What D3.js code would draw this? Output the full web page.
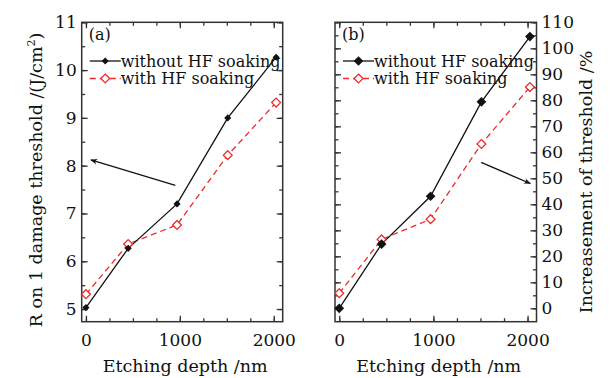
<!DOCTYPE html>
<html>
<head>
<meta charset="utf-8">
<script src="https://cdn.jsdelivr.net/npm/d3@7"></script>
<style>
  body { margin: 0; background: #fff; }
  svg text { font-family: "DejaVu Serif", serif; fill: #111; }
</style>
</head>
<body>
<div id="chart"></div>
<script>
var svgWidth = 616;
var svgHeight = 378;

// data
var depth = [0, 450, 970, 1510, 2025];
var thrWithout = [5.03, 6.27, 7.2, 9.0, 10.27];
var thrWith = [5.31, 6.36, 6.76, 8.22, 9.32];
var incWithout = [0, 24.7, 43.1, 79.4, 104.5];
var incWith = [5.8, 26.5, 34.3, 63.2, 85.1];

var xTicks = [0, 1000, 2000];
var thrTicks = [5, 6, 7, 8, 9, 10, 11];
var incTicks = [0, 10, 20, 30, 40, 50, 60, 70, 80, 90, 100, 110];
var seriesNames = ["without HF soaking", "with HF soaking"];

// arrow annotations, in data units [x0, y0, x1, y1]
var arrowA = [952, 7.59, 53, 8.12];
var arrowB = [1507, 56.1, 2029, 48.0];

var red = "#ee2a2a";
var fmt = d3.format("d");

var svg = d3.select("#chart")
  .append("svg")
  .attr("width", svgWidth)
  .attr("height", svgHeight);

svg.append("defs").append("marker")
  .attr("id", "head")
  .attr("viewBox", "0 0 10 10")
  .attr("refX", 9)
  .attr("refY", 5)
  .attr("markerWidth", 9)
  .attr("markerHeight", 7)
  .attr("markerUnits", "userSpaceOnUse")
  .attr("orient", "auto")
  .append("path")
  .attr("d", "M0,1 L10,5 L0,9 L3,5 Z")
  .attr("fill", "#111");

var plotTop = 22.3, plotBottom = 321.7;

function drawPanel(opt) {
  var x = d3.scaleLinear().domain([-45, 2095]).range([opt.left, opt.right]);
  var y = d3.scaleLinear().domain(opt.yDomain).range([plotBottom, plotTop]);
  var g = svg.append("g");

  // frame
  g.append("rect")
    .attr("x", opt.left).attr("y", plotTop)
    .attr("width", opt.right - opt.left).attr("height", plotBottom - plotTop)
    .attr("fill", "none").attr("stroke", "#333").attr("stroke-width", 1.5);

  var xMinor = d3.range(0, 2001, 250);
  var yMinor = d3.range(opt.yDomain[0] < 0 ? 0 : Math.ceil(opt.yDomain[0]), opt.yDomain[1] + 0.001, opt.minorStep);

  // bottom axis with labels
  g.append("g").attr("transform", `translate(0,${plotBottom})`)
    .call(d3.axisBottom(x).tickValues(xTicks).tickFormat(fmt).tickSize(-6).tickPadding(12));
  g.append("g").attr("transform", `translate(0,${plotBottom})`)
    .call(d3.axisBottom(x).tickValues(xMinor).tickSize(-3.5).tickFormat(""));
  // top mirror
  g.append("g").attr("transform", `translate(0,${plotTop})`)
    .call(d3.axisTop(x).tickValues(xTicks).tickSize(-6).tickFormat(""));
  g.append("g").attr("transform", `translate(0,${plotTop})`)
    .call(d3.axisTop(x).tickValues(xMinor).tickSize(-3.5).tickFormat(""));

  // y axes: labelled side and mirror
  var labelAxis = opt.side === "left" ? d3.axisLeft : d3.axisRight;
  var mirrorAxis = opt.side === "left" ? d3.axisRight : d3.axisLeft;
  var labelX = opt.side === "left" ? opt.left : opt.right;
  var mirrorX = opt.side === "left" ? opt.right : opt.left;

  g.append("g").attr("transform", `translate(${labelX},0)`)
    .call(labelAxis(y).tickValues(opt.yTicks).tickFormat(fmt).tickSize(-6).tickPadding(5));
  g.append("g").attr("transform", `translate(${labelX},0)`)
    .call(labelAxis(y).tickValues(yMinor).tickSize(-3.5).tickFormat(""));
  g.append("g").attr("transform", `translate(${mirrorX},0)`)
    .call(mirrorAxis(y).tickValues(opt.yTicks).tickSize(-6).tickFormat(""));
  g.append("g").attr("transform", `translate(${mirrorX},0)`)
    .call(mirrorAxis(y).tickValues(yMinor).tickSize(-3.5).tickFormat(""));

  g.selectAll(".domain").remove();
  g.selectAll(".tick line").attr("stroke", "#333").attr("stroke-width", 1.3);
  g.selectAll(".tick text").style("font-size", "17px").attr("fill", "#111");

  // lines
  var line = d3.line().x(d => x(d[0])).y(d => y(d[1]));
  var s1 = depth.map((d, i) => [d, opt.s1[i]]);
  var s2 = depth.map((d, i) => [d, opt.s2[i]]);

  g.append("path").datum(s2).attr("d", line)
    .attr("fill", "none").attr("stroke", red).attr("stroke-width", 1.3)
    .attr("stroke-dasharray", "6,4");
  g.append("path").datum(s1).attr("d", line)
    .attr("fill", "none").attr("stroke", "#111").attr("stroke-width", 1.3);

  var sym1 = d3.symbol().type(d3.symbolDiamond2).size(opt.fillSize);
  var sym2 = d3.symbol().type(d3.symbolDiamond2).size(50);

  g.selectAll(".m2").data(s2).enter().append("path")
    .attr("transform", d => `translate(${x(d[0])},${y(d[1])})`)
    .attr("d", sym2).attr("fill", "#fff").attr("stroke", red).attr("stroke-width", 1.3);
  g.selectAll(".m1").data(s1).enter().append("path")
    .attr("transform", d => `translate(${x(d[0])},${y(d[1])})`)
    .attr("d", sym1).attr("fill", "#111");

  // panel label
  g.append("text").attr("x", opt.left + 7).attr("y", plotTop + 18)
    .style("font-size", "16px").text(opt.tag);

  // legend
  var lx = opt.left + 8, lw = 31;
  var ly1 = 61, ly2 = 78.5;
  g.append("line").attr("x1", lx).attr("x2", lx + lw).attr("y1", ly1).attr("y2", ly1)
    .attr("stroke", "#111").attr("stroke-width", 1.3);
  g.append("path").attr("transform", `translate(${lx + lw / 2},${ly1})`)
    .attr("d", sym1).attr("fill", "#111");
  g.append("text").attr("x", lx + lw).attr("y", ly1 + 5.5)
    .style("font-size", "16px").text(seriesNames[0]);

  g.append("line").attr("x1", lx).attr("x2", lx + lw).attr("y1", ly2).attr("y2", ly2)
    .attr("stroke", red).attr("stroke-width", 1.3).attr("stroke-dasharray", "6,4");
  g.append("path").attr("transform", `translate(${lx + lw / 2},${ly2})`)
    .attr("d", sym2).attr("fill", "#fff").attr("stroke", red).attr("stroke-width", 1.3);
  g.append("text").attr("x", lx + lw).attr("y", ly2 + 5.5)
    .style("font-size", "16px").text(seriesNames[1]);

  // arrow
  var a = opt.arrow;
  g.append("line")
    .attr("x1", x(a[0])).attr("y1", y(a[1]))
    .attr("x2", x(a[2])).attr("y2", y(a[3]))
    .attr("stroke", "#111").attr("stroke-width", 1.3)
    .attr("marker-end", "url(#head)");

  // x title
  g.append("text")
    .attr("x", (opt.left + opt.right) / 2 + 3).attr("y", 372)
    .attr("text-anchor", "middle").style("font-size", "17.5px")
    .text("Etching depth /nm");

  return g;
}

drawPanel({
  left: 81.7, right: 282.7, side: "left",
  yDomain: [4.735, 11], yTicks: thrTicks, minorStep: 0.5,
  s1: thrWithout, s2: thrWith, fillSize: 32, tag: "(a)", arrow: arrowA
});

drawPanel({
  left: 335, right: 536.5, side: "right",
  yDomain: [-5.15, 110], yTicks: incTicks, minorStep: 5,
  s1: incWithout, s2: incWith, fillSize: 60, tag: "(b)", arrow: arrowB
});

// y titles
var ta = svg.append("text")
  .attr("transform", "translate(42,180) rotate(-90)")
  .attr("text-anchor", "middle").style("font-size", "17.5px");
ta.append("tspan").text("R on 1 damage threshold /(J/cm");
ta.append("tspan").attr("dy", -7).style("font-size", "11px").text("2");
ta.append("tspan").attr("dy", 7).text(")");

svg.append("text")
  .attr("transform", "translate(592,182) rotate(-90)")
  .attr("text-anchor", "middle").style("font-size", "17.5px")
  .text("Increasement of threshold /%");
</script>
</body>
</html>
